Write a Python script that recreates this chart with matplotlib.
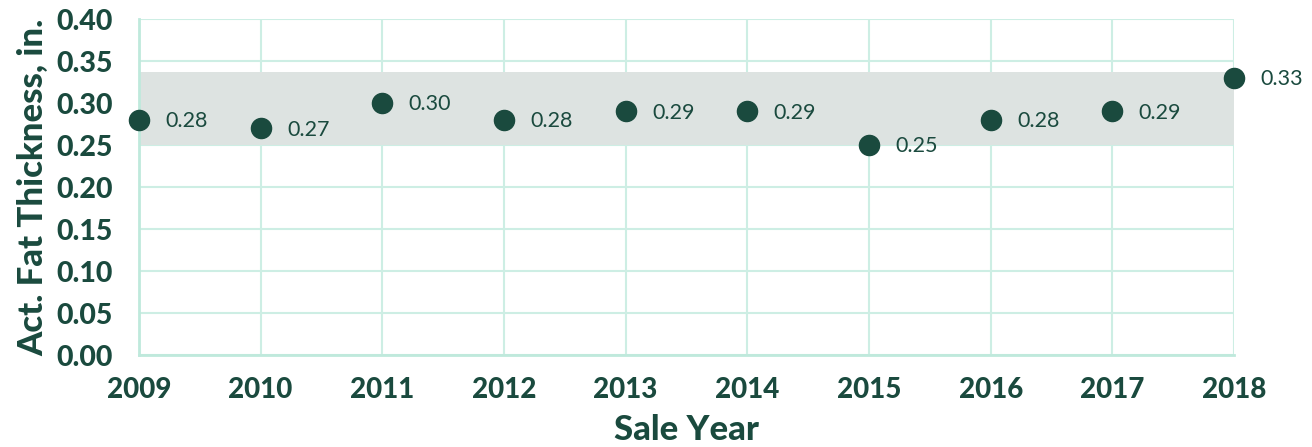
import matplotlib
matplotlib.use("Agg")
import matplotlib.pyplot as plt

years = [2009, 2010, 2011, 2012, 2013, 2014, 2015, 2016, 2017, 2018]
fat = [0.28, 0.27, 0.30, 0.28, 0.29, 0.29, 0.25, 0.28, 0.29, 0.33]
band_low, band_high = 0.25, 0.337
yticks = [0.00, 0.05, 0.10, 0.15, 0.20, 0.25, 0.30, 0.35, 0.40]

dark = "#1a4a3e"
grid = "#cdeee4"

plt.rcParams['font.family'] = ['Lato', 'DejaVu Sans']

fig = plt.figure(figsize=(13.12, 4.47), dpi=100)
ax = fig.add_axes([139/1312, 1-355/447, (1234-139)/1312, (355-19)/447])

ax.axhspan(band_low, band_high, color="#dde3e1", zorder=1, lw=0)
ax.scatter(years, fat, s=210, color=dark, zorder=3, clip_on=False)
for x, y in zip(years, fat):
    ax.annotate(f"{y:.2f}", (x, y), xytext=(19, -1), textcoords="offset points",
                ha="left", va="center", fontsize=15.5, color=dark)

ax.set_xlim(2009, 2018)
ax.set_ylim(0, 0.40)
ax.set_xticks(years)
ax.set_yticks(yticks)
ax.set_xticklabels([str(y) for y in years], fontsize=20, fontweight="black", color=dark)
ax.set_yticklabels([f"{v:.2f}" for v in yticks], fontsize=20.5, fontweight="black", color=dark)
ax.tick_params(length=0)
ax.tick_params(axis="y", pad=19)
ax.tick_params(axis="x", pad=16)
ax.grid(True, color=grid, lw=1.5, zorder=0)
ax.set_axisbelow(True)
for s in ["top", "right"]:
    ax.spines[s].set_visible(False)
for s in ["left", "bottom"]:
    ax.spines[s].set_color("#bfe9dc")
    ax.spines[s].set_linewidth(2)

ax.set_xlabel("Sale Year", fontsize=25, fontweight="black", color=dark, labelpad=8)
ax.set_ylabel("Act. Fat Thickness, in.", fontsize=25, fontweight="black", color=dark, labelpad=5)

fig.savefig("out.png", dpi=100)
